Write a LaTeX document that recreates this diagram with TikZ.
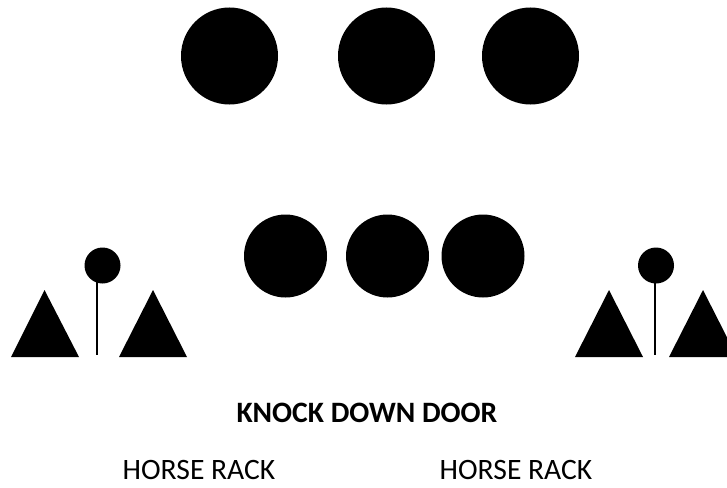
\documentclass[tikz,border=0pt]{standalone}
\usepackage{fontspec}
\setmainfont{Carlito}
\begin{document}
\begin{tikzpicture}[x=1pt,y=-1pt,
  bigdot/.style={circle,fill=black,inner sep=0pt,minimum size=97pt},
  middot/.style={circle,fill=black,inner sep=0pt,minimum size=83pt},
  smalldot/.style={circle,fill=black,inner sep=0pt,minimum size=36pt},
  pole/.style={line width=1.6pt,black},
  lbl/.style={anchor=base,inner sep=0pt,font=\fontsize{29.6}{31}\selectfont}]
\useasboundingbox (0,0) rectangle (727,487);
% top row
\node[bigdot] (t1) at (229.5,56) {};
\node[bigdot] (t2) at (386.5,56) {};
\node[bigdot] (t3) at (530.5,56) {};
% middle row
\node[middot] (m1) at (285.5,256) {};
\node[middot] (m2) at (387.5,256) {};
\node[middot] (m3) at (483,256) {};
% left horse rack
\node[smalldot] (lc) at (102.5,265.5) {};
\coordinate (lp1) at (97,280);
\coordinate (lp2) at (97,355);
\draw[pole] (lp1) -- (lp2);
\fill (11,357) -- (44.5,290) -- (79,357) -- cycle;
\fill (119,357) -- (153,290) -- (187,357) -- cycle;
% right horse rack
\node[smalldot] (rc) at (656,265.5) {};
\coordinate (rp1) at (655,280);
\coordinate (rp2) at (655,355);
\draw[pole] (rp1) -- (rp2);
\fill (575,357) -- (609,290) -- (643,357) -- cycle;
\begin{scope}
\clip (0,0) rectangle (727,487);
\fill (669,357) -- (703,290) -- (737,357) -- cycle;
\end{scope}
% labels
\node[lbl,font=\fontsize{29.6}{31}\selectfont\bfseries] (door) at (367,422) {KNOCK DOWN DOOR};
\node[lbl] (hr1) at (199,479.5) {HORSE RACK};
\node[lbl] (hr2) at (516,479.5) {HORSE RACK};
\end{tikzpicture}
\end{document}
